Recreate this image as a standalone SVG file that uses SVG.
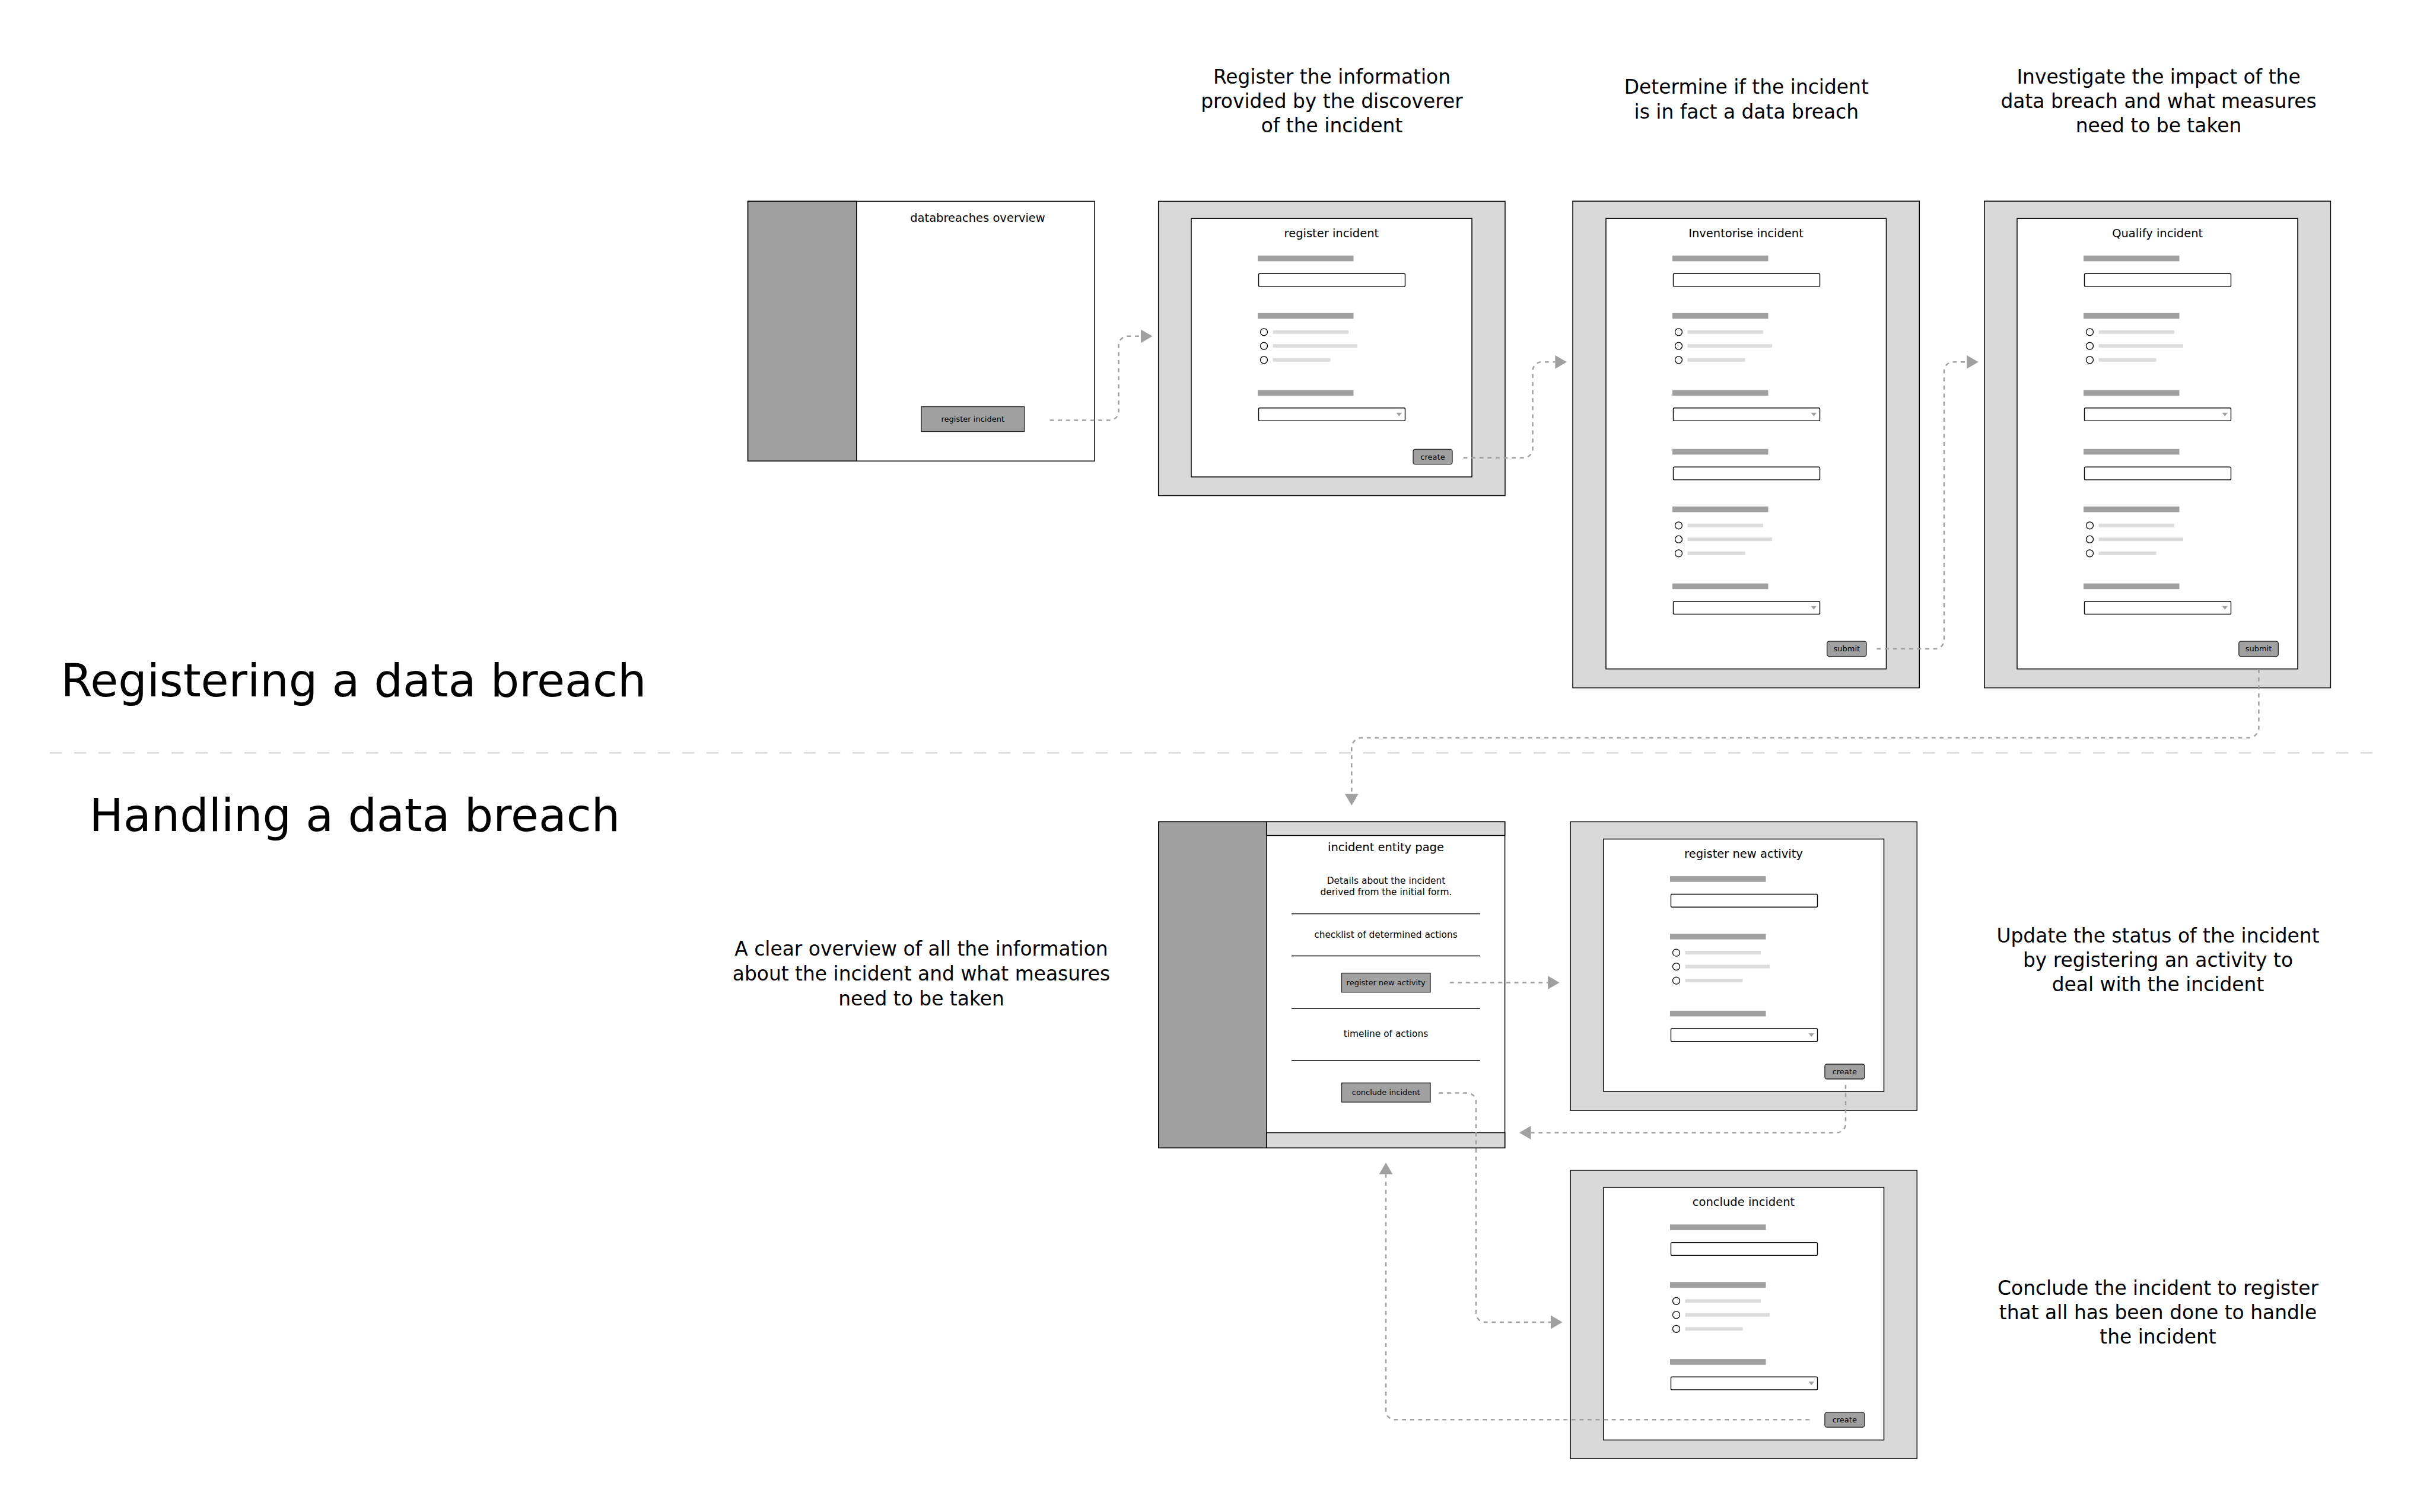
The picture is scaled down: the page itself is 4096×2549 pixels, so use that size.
<svg xmlns="http://www.w3.org/2000/svg" width="4096" height="2549" viewBox="0 0 4096 2549">
<style>
.t{font-family:"DejaVu Sans","Liberation Sans",sans-serif;fill:#000}
.h1{font-size:76.4px}
.desc{font-size:32.9px;text-anchor:middle}
.ttl{font-size:19.5px;text-anchor:middle}
.body{font-size:15.4px;text-anchor:middle}
.btn{font-size:13px;text-anchor:middle}
.frame{fill:#d9d9d9;stroke:#000;stroke-width:1.5}
.panel{fill:#fff;stroke:#000;stroke-width:1.5}
.side{fill:#a0a0a0;stroke:#000;stroke-width:1.5}
.band{fill:#d9d9d9;stroke:#000;stroke-width:1.5}
.lbl{fill:#a0a0a0}
.opt{fill:#dcdcdc}
.inp{fill:#fff;stroke:#000;stroke-width:1.4}
.rad{fill:#fff;stroke:#000;stroke-width:1.3}
.sel{fill:#a0a0a0}
.bt{fill:#a0a0a0;stroke:#222;stroke-width:1.3}
.sep{stroke:#000;stroke-width:1.5}
.con{fill:none;stroke:#a0a0a0;stroke-width:2.5;stroke-dasharray:6.8 6.8}
.div{stroke:#d9d9d9;stroke-width:2.4;stroke-dasharray:20.5 20.5}
</style>
<defs>
<marker id="arr" markerUnits="userSpaceOnUse" markerWidth="22" markerHeight="24" refX="0" refY="11.4" orient="auto" overflow="visible">
<path d="M0,0 L19.6,11.4 L0,22.8 Z" fill="#a0a0a0" stroke="none"/>
</marker>
<g id="fields">
<rect class="lbl" x="112" y="62.6" width="161.5" height="9.6"/>
<rect class="inp" x="113.5" y="93" width="247" height="21.7" rx="2"/>
<rect class="lbl" x="112" y="159.6" width="161.5" height="9.6"/>
<circle class="rad" cx="122.5" cy="191.6" r="6"/>
<circle class="rad" cx="122.5" cy="215" r="6"/>
<circle class="rad" cx="122.5" cy="238.6" r="6"/>
<rect class="opt" x="137.5" y="188.6" width="127.5" height="6"/>
<rect class="opt" x="137.5" y="212" width="142.5" height="6"/>
<rect class="opt" x="137.5" y="235.6" width="97" height="6"/>
<rect class="lbl" x="112" y="289.4" width="161.5" height="9.6"/>
<rect class="inp" x="113.5" y="319.5" width="247" height="21.7" rx="2"/>
<polygon class="sel" points="345.5,327.5 355,327.5 350.3,333.5"/>
</g>
</defs>
<rect width="4096" height="2549" fill="#fff"/>

<g id="headings">
<text class="t h1" x="102.5" y="1174.4">Registering a data breach</text>
<text class="t h1" x="150.5" y="1401.2">Handling a data breach</text>
<line class="div" x1="83.9" y1="1269.2" x2="4004" y2="1269.2"/>
</g>

<g id="descriptions">
<text class="t desc" x="2245" y="140.6">Register the information</text>
<text class="t desc" x="2245" y="181.7">provided by the discoverer</text>
<text class="t desc" x="2245" y="222.5">of the incident</text>
<text class="t desc" x="2943.8" y="158">Determine if the incident</text>
<text class="t desc" x="2943.8" y="199.5">is in fact a data breach</text>
<text class="t desc" x="3638.5" y="140.6">Investigate the impact of the</text>
<text class="t desc" x="3638.5" y="181.7">data breach and what measures</text>
<text class="t desc" x="3638.5" y="222.5">need to be taken</text>
<text class="t desc" x="1553" y="1611.4">A clear overview of all the information</text>
<text class="t desc" x="1553" y="1652.7">about the incident and what measures</text>
<text class="t desc" x="1553" y="1694.5">need to be taken</text>
<text class="t desc" x="3637.5" y="1588.6">Update the status of the incident</text>
<text class="t desc" x="3637.5" y="1630">by registering an activity to</text>
<text class="t desc" x="3637.5" y="1670.9">deal with the incident</text>
<text class="t desc" x="3637.5" y="2182.9">Conclude the incident to register</text>
<text class="t desc" x="3637.5" y="2223.8">that all has been done to handle</text>
<text class="t desc" x="3637.5" y="2264.7">the incident</text>
</g>

<g id="databreaches-overview">
<rect class="panel" x="1260.6" y="339.4" width="584.4" height="437.8"/>
<rect class="side" x="1260.6" y="339.4" width="183.2" height="437.8"/>
<text class="t ttl" x="1648" y="374">databreaches overview</text>
<rect class="bt" x="1553" y="685.6" width="173.6" height="41.9"/>
<text class="t btn" x="1639.8" y="711">register incident</text>
</g>

<g id="register-incident">
<rect class="frame" x="1952.7" y="339.4" width="584.3" height="496.1"/>
<rect class="panel" x="2008" y="368.2" width="473" height="435.8"/>
<text class="t ttl" x="2244.4" y="399.7">register incident</text>
<use href="#fields" transform="translate(2008,368.2)"/>
<rect class="bt" x="2382" y="757.5" width="66" height="25.1" rx="3.5"/>
<text class="t btn" x="2415" y="774.6">create</text>
</g>

<g id="inventorise-incident">
<rect class="frame" x="2651" y="339.1" width="584.3" height="820.5"/>
<rect class="panel" x="2707" y="368.2" width="472.5" height="759.5"/>
<text class="t ttl" x="2943" y="399.7">Inventorise incident</text>
<use href="#fields" transform="translate(2707,368.2)"/>
<use href="#fields" transform="translate(2707,694.2)"/>
<rect class="bt" x="3079.7" y="1081.2" width="66.3" height="25.4" rx="3.5"/>
<text class="t btn" x="3112.9" y="1098.4">submit</text>
</g>

<g id="qualify-incident">
<rect class="frame" x="3344.8" y="339.1" width="583.6" height="820.5"/>
<rect class="panel" x="3400" y="368.2" width="473" height="759.5"/>
<text class="t ttl" x="3636.7" y="399.7">Qualify incident</text>
<use href="#fields" transform="translate(3400,368.2)"/>
<use href="#fields" transform="translate(3400,694.2)"/>
<rect class="bt" x="3773.8" y="1081.2" width="66.5" height="25.4" rx="3.5"/>
<text class="t btn" x="3807" y="1098.4">submit</text>
</g>

<g id="incident-entity-page">
<rect class="panel" x="1953" y="1385.4" width="583.6" height="549.8"/>
<rect class="side" x="1953" y="1385.4" width="182.2" height="549.8"/>
<rect class="band" x="2135.2" y="1385.4" width="401.4" height="23.1"/>
<rect class="band" x="2135.2" y="1909.5" width="401.4" height="25.7"/>
<text class="t ttl" x="2336" y="1435.3">incident entity page</text>
<text class="t body" x="2336.5" y="1489.8">Details about the incident</text>
<text class="t body" x="2336.5" y="1508.6">derived from the initial form.</text>
<line class="sep" x1="2177" y1="1540.4" x2="2494.8" y2="1540.4"/>
<text class="t body" x="2336" y="1580.8">checklist of determined actions</text>
<line class="sep" x1="2177" y1="1611.4" x2="2494.8" y2="1611.4"/>
<rect class="bt" x="2261.5" y="1640.5" width="149.5" height="32.2"/>
<text class="t btn" x="2336.2" y="1661.1">register new activity</text>
<line class="sep" x1="2177" y1="1700" x2="2494.8" y2="1700"/>
<text class="t body" x="2336" y="1748.4">timeline of actions</text>
<line class="sep" x1="2177" y1="1788" x2="2494.8" y2="1788"/>
<rect class="bt" x="2261.5" y="1825.7" width="149.5" height="32.3"/>
<text class="t btn" x="2336.2" y="1846">conclude incident</text>
</g>

<g id="register-new-activity">
<rect class="frame" x="2647" y="1385.4" width="584.3" height="486.6"/>
<rect class="panel" x="2703" y="1414.5" width="472.5" height="425.5"/>
<text class="t ttl" x="2939" y="1446">register new activity</text>
<use href="#fields" transform="translate(2703,1414.5)"/>
<rect class="bt" x="3075.9" y="1794" width="66.9" height="25" rx="3.5"/>
<text class="t btn" x="3109.3" y="1811">create</text>
</g>

<g id="conclude-incident">
<rect class="frame" x="2647" y="1972.9" width="584.3" height="486.1"/>
<rect class="panel" x="2703" y="2001.7" width="472.5" height="425.9"/>
<text class="t ttl" x="2939" y="2033">conclude incident</text>
<use href="#fields" transform="translate(2703,2001.7)"/>
<rect class="bt" x="3075.9" y="2381.2" width="66.9" height="24.8" rx="3.5"/>
<text class="t btn" x="3109.3" y="2398">create</text>
</g>

<g id="connectors">
<path class="con" marker-end="url(#arr)" d="M1769.6,708.5 H1870.6 A15,15 0 0 0 1885.6,693.5 V581.8 A15,15 0 0 1 1900.6,566.8 H1923"/>
<path class="con" marker-end="url(#arr)" d="M2466.6,771.7 H2568.5 A15,15 0 0 0 2583.5,756.7 V625.3 A15,15 0 0 1 2598.5,610.3 H2621.4"/>
<path class="con" marker-end="url(#arr)" d="M3163.5,1093.8 H3262 A15,15 0 0 0 3277,1078.8 V625.3 A15,15 0 0 1 3292,610.3 H3315.2"/>
<path class="con" marker-end="url(#arr)" d="M3807.4,1128.2 V1226.7 A17,17 0 0 1 3790.4,1243.7 H2295.3 A17,17 0 0 0 2278.3,1260.7 V1338.5"/>
<path class="con" marker-end="url(#arr)" d="M2443.8,1656.5 H2609"/>
<path class="con" marker-end="url(#arr)" d="M3111,1829 V1894.5 A15,15 0 0 1 3096,1909.5 H2580.5"/>
<path class="con" marker-end="url(#arr)" d="M2425.4,1842.5 H2473 A15,15 0 0 1 2488,1857.5 V2214 A15,15 0 0 0 2503,2229 H2614"/>
<path class="con" marker-end="url(#arr)" d="M3050,2393.3 H2351 A15,15 0 0 1 2336,2378.3 V1979.6"/>
</g>
</svg>
